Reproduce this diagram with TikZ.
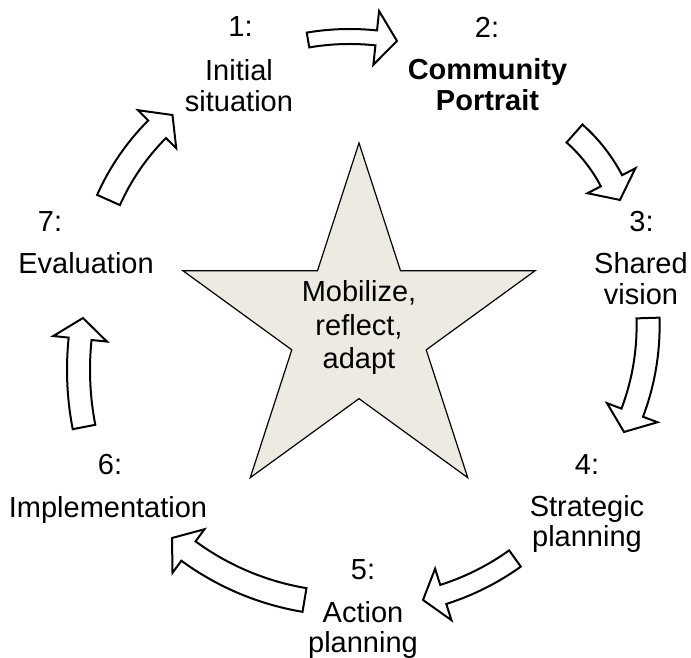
\documentclass[tikz,border=0pt]{standalone}
\usepackage{fontspec}
\setmainfont{Liberation Sans}
\usetikzlibrary{shapes.geometric}

\definecolor{starfill}{RGB}{237,234,225}

% curved block arrow from #1 (middle of tail) to #2 (tip), #3 = bulge, #4 = shaft width
\newcommand{\headhalf}{27}
\newcommand{\headlen}{21}
\newcommand{\cyclearrow}[4]{%
  \pgfmathanglebetweenpoints{\pgfpointanchor{#1}{center}}{\pgfpointanchor{#2}{center}}%
  \let\arrowrot\pgfmathresult
  \pgfpointdiff{\pgfpointanchor{#1}{center}}{\pgfpointanchor{#2}{center}}%
  \pgfgetlastxy{\arrowdx}{\arrowdy}%
  \pgfmathsetmacro{\arrowlen}{veclen(\arrowdx,\arrowdy)}%
  \pgfmathsetmacro{\arrowrad}{((\arrowlen/2)*(\arrowlen/2)+#3*#3)/(2*#3)}%
  \pgfmathsetmacro{\arrowstart}{atan2(\arrowrad-#3,-\arrowlen/2)}%
  \pgfmathsetmacro{\arrowend}{atan2(\arrowrad-#3,\arrowlen/2)}%
  \pgfmathsetmacro{\arrowbase}{\arrowend+\headlen/\arrowrad*180/pi}%
  \begin{scope}[shift={(#1)},rotate=\arrowrot,shift={(\arrowlen/2,#3-\arrowrad)}]
    \draw[blockarrow] (\arrowstart:\arrowrad+#4/2)
      arc[start angle=\arrowstart,end angle=\arrowbase,radius=\arrowrad+#4/2]
      -- (\arrowbase:\arrowrad+\headhalf) -- (\arrowend:\arrowrad)
      -- (\arrowbase:\arrowrad-\headhalf) -- (\arrowbase:\arrowrad-#4/2)
      arc[start angle=\arrowbase,end angle=\arrowstart,radius=\arrowrad-#4/2] -- cycle;
  \end{scope}
}

\begin{document}
\begin{tikzpicture}[x=1pt,y=1pt]
  \tikzset{
    stepnum/.style={anchor=base,inner sep=0pt,font=\fontsize{29}{30.5}\selectfont},
    stepname/.style={anchor=base,inner sep=0pt,align=center,font=\fontsize{29}{30.5}\selectfont},
    hub/.style={star,star points=5,star point ratio=2.618,minimum size=370pt,
      inner sep=0pt,draw=black,line width=1.2pt,fill=starfill},
    hubtext/.style={align=center,inner sep=0pt,font=\fontsize{29}{33.5}\selectfont},
    blockarrow/.style={draw=black,line width=2pt,fill=white,line join=miter}
  }
  \useasboundingbox (0,0) rectangle (691,657);

  % centre
  \node [hub] (hub) at (359,329) {};
  \node [hubtext] (motto) at (hub.center) {Mobilize,\\reflect,\\adapt};

  % the seven steps (names sit on the baseline of their last line)
  \node [stepnum] (n1) at (240.5,620) {1:};
  \node [stepname] (s1) at (239,545.5) {Initial\\situation};
  \node [stepnum] (n2) at (487,619.5) {2:};
  \node [stepname,font=\fontsize{29}{30.5}\selectfont\bfseries] (s2) at (487.5,546.5) {Community\\Portrait};
  \node [stepnum] (n3) at (641.5,425) {3:};
  \node [stepname] (s3) at (641,352.5) {Shared\\vision};
  \node [stepnum] (n4) at (587,183) {4:};
  \node [stepname] (s4) at (587,110.5) {Strategic\\planning};
  \node [stepnum] (n5) at (363,78) {5:};
  \node [stepname] (s5) at (363,4.5) {Action\\planning};
  \node [stepnum] (n6) at (110,183) {6:};
  \node [stepname] (s6) at (108,140) {Implementation};
  \node [stepnum] (n7) at (50,425) {7:};
  \node [stepname] (s7) at (86,383) {Evaluation};

  % arrow ends
  \coordinate (a12) at (308,617);   \coordinate (b12) at (397,616);
  \coordinate (a23) at (574.5,523.5); \coordinate (b23) at (620,457);
  \coordinate (a34) at (648,339);   \coordinate (b34) at (624,225);
  \coordinate (a45) at (515,98.5);  \coordinate (b45) at (423,57);
  \coordinate (a56) at (304.5,57);  \coordinate (b56) at (172,119);
  \coordinate (a67) at (84,230);    \coordinate (b67) at (83,339);
  \coordinate (a71) at (108.5,457); \coordinate (b71) at (172.5,542);

  \cyclearrow{a12}{b12}{4}{15}
  \cyclearrow{a23}{b23}{5}{24}
  \cyclearrow{a34}{b34}{7}{23}
  \cyclearrow{a45}{b45}{5}{20}
  \cyclearrow{a56}{b56}{10}{24}
  \cyclearrow{a67}{b67}{5}{23}
  \cyclearrow{a71}{b71}{6}{25}
\end{tikzpicture}
\end{document}
